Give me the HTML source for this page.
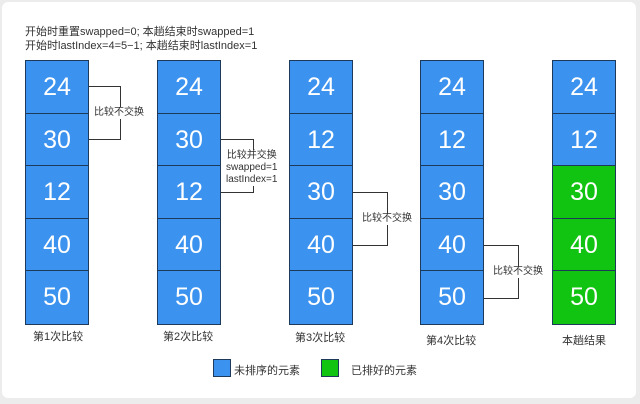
<!DOCTYPE html><html><head><meta charset="utf-8"><style>
body{margin:0;width:640px;height:404px;background:#ececec;position:relative;overflow:hidden;font-family:"Liberation Sans","Noto Sans CJK SC",sans-serif}
.card{position:absolute;left:2px;top:2px;width:634px;height:396px;background:#fff;border-radius:6px}
.c{position:absolute;width:64px;border:1.5px solid #1d3a5a;box-sizing:border-box}
.c div{height:52.5px;border-bottom:1.5px solid #1d3a5a;color:#fff;font-size:25px;text-align:center;line-height:52px;box-sizing:border-box}
.c div:last-child{border-bottom:none}
.b{background:#3c93ef}.g{background:#12c412}
.t{position:absolute;font-size:11px;color:#333;white-space:nowrap}
.br{position:absolute;border:1.5px solid #333;border-left:none}
.lbl{position:absolute;font-size:10px;color:#333;background:#fff;line-height:12px;text-align:center;white-space:nowrap}
</style></head><body><div class="card"></div>
<div class="t" style="left:25px;top:25px;font-size:11px;line-height:14px">开始时重置swapped=0; 本趟结束时swapped=1<br>开始时lastIndex=4=5−1; 本趟结束时lastIndex=1</div>
<div class="c" style="left:25px;top:60px"><div class="b">24</div><div class="b">30</div><div class="b">12</div><div class="b">40</div><div class="b">50</div></div>
<div class="c" style="left:157px;top:60px"><div class="b">24</div><div class="b">30</div><div class="b">12</div><div class="b">40</div><div class="b">50</div></div>
<div class="c" style="left:289px;top:60px"><div class="b">24</div><div class="b">12</div><div class="b">30</div><div class="b">40</div><div class="b">50</div></div>
<div class="c" style="left:420px;top:60px"><div class="b">24</div><div class="b">12</div><div class="b">30</div><div class="b">40</div><div class="b">50</div></div>
<div class="c" style="left:552px;top:60px"><div class="b">24</div><div class="b">12</div><div class="g">30</div><div class="g">40</div><div class="g">50</div></div>
<div class="br" style="left:89px;top:86px;width:31px;height:52px"></div>
<div class="lbl" style="left:94px;top:107px">比较不交换</div>
<div class="br" style="left:221px;top:139px;width:32px;height:52px"></div>
<div class="lbl" style="left:226px;top:150px">比较并交换<br>swapped=1<br>lastIndex=1</div>
<div class="br" style="left:353px;top:192px;width:34px;height:52px"></div>
<div class="lbl" style="left:362px;top:213px">比较不交换</div>
<div class="br" style="left:484px;top:245px;width:34px;height:52px"></div>
<div class="lbl" style="left:493px;top:266px">比较不交换</div>
<div class="t" style="left:33px;top:328px">第1次比较</div>
<div class="t" style="left:163px;top:328px">第2次比较</div>
<div class="t" style="left:295px;top:329px">第3次比较</div>
<div class="t" style="left:426px;top:332px">第4次比较</div>
<div class="t" style="left:562px;top:332px">本趟结果</div>
<div style="position:absolute;left:213px;top:359px;width:18px;height:18px;box-sizing:border-box;border:1.5px solid #1d3a5a;background:#3c93ef"></div>
<div class="t" style="left:234px;top:362px">未排序的元素</div>
<div style="position:absolute;left:321px;top:359px;width:18px;height:18px;box-sizing:border-box;border:1.5px solid #1d3a5a;background:#12c412"></div>
<div class="t" style="left:351px;top:362px">已排好的元素</div>
</body></html>
